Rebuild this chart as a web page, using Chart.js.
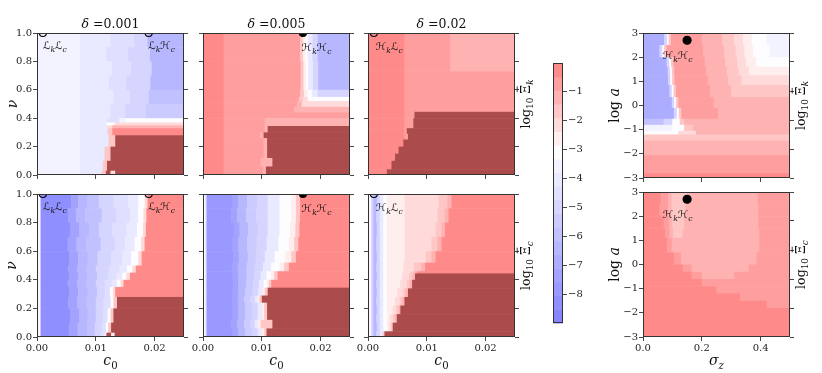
<!DOCTYPE html>
<html>
<head>
<meta charset="utf-8">
<script src="https://cdn.jsdelivr.net/npm/chart.js@4.4.1/dist/chart.umd.min.js"></script>
<style>
  body { margin: 0; background: #fff; width: 822px; height: 373px; position: relative; overflow: hidden; }
  canvas.p { position: absolute; }
</style>
</head>
<body>
<script>
// contour levels of the colour bar (20 edges, -9 .. 0)
const levels = [-9, -8.526, -8.053, -7.579, -7.105, -6.632, -6.158, -5.684, -5.211, -4.737,
                -4.263, -3.789, -3.316, -2.842, -2.368, -1.895, -1.421, -0.947, -0.474, 0];
const cbTicks = [-1, -2, -3, -4, -5, -6, -7, -8];
const cbLabels = ['\u22121', '\u22122', '\u22123', '\u22124', '\u22125', '\u22126', '\u22127', '\u22128'];

const c0Ticks = [0, 0.01, 0.02];
const c0Labels = ['0.00', '0.01', '0.02'];
const nuTicks = [0, 0.2, 0.4, 0.6, 0.8, 1.0];
const nuLabels = ['0.0', '0.2', '0.4', '0.6', '0.8', '1.0'];
const sigTicks = [0, 0.2, 0.4];
const sigLabels = ['0.0', '0.2', '0.4'];
const logaTicks = [-3, -2, -1, 0, 1, 2, 3];
const logaLabels = ['\u22123', '\u22122', '\u22121', '0', '1', '2', '3'];
const twinTicks = [0, 0.2, 0.4, 0.6, 0.8, 1.0];

// each strip: [y from, y to, [[x end, log10 value], ...]]  ('M' = dark masked region)
const k001 = [
  [0.90, 1.00, [[0.0073, -3.5], [0.0125, -4.0], [0.0165, -4.5], [0.0188, -5.0], [0.025, -6.4]]],
  [0.80, 0.90, [[0.0073, -3.5], [0.0118, -4.0], [0.0155, -4.5], [0.0192, -5.0], [0.025, -6.4]]],
  [0.70, 0.80, [[0.0073, -3.5], [0.0128, -4.0], [0.0160, -4.5], [0.0195, -5.0], [0.025, -6.4]]],
  [0.60, 0.70, [[0.0073, -3.5], [0.0122, -4.0], [0.0152, -4.5], [0.0193, -5.0], [0.025, -6.4]]],
  [0.50, 0.60, [[0.0073, -3.5], [0.0130, -4.0], [0.0158, -4.5], [0.0190, -5.0], [0.025, -6.0]]],
  [0.40, 0.50, [[0.0073, -3.5], [0.0125, -4.0], [0.0150, -4.5], [0.0185, -5.0], [0.025, -5.5]]],
  [0.37, 0.40, [[0.0073, -3.5], [0.0120, -4.0], [0.0140, -4.5], [0.0150, -3.6], [0.025, -3.0]]],
  [0.35, 0.37, [[0.0073, -3.5], [0.0118, -4.0], [0.0132, -3.0], [0.025, -2.2]]],
  [0.33, 0.35, [[0.0073, -3.5], [0.0118, -4.0], [0.0128, -2.0], [0.025, -1.0]]],
  [0.28, 0.33, [[0.0073, -3.5], [0.0120, -4.0], [0.0128, -1.5], [0.025, -0.3]]],
  [0.20, 0.28, [[0.0073, -3.5], [0.0122, -4.0], [0.0133, -1.5], [0.025, 'M']]],
  [0.10, 0.20, [[0.0073, -3.5], [0.0115, -4.0], [0.0125, -1.5], [0.025, 'M']]],
  [0.03, 0.10, [[0.0073, -3.5], [0.0112, -4.0], [0.0119, -1.5], [0.025, 'M']]],
  [0.00, 0.03, [[0.0073, -3.5], [0.0110, -4.0], [0.0117, -1.5], [0.0125, 'M'], [0.0133, -2.0], [0.025, 'M']]]
];

const k005 = [
  [0.80, 1.00, [[0.0035, -0.3], [0.0165, -0.8], [0.0170, -1.5], [0.0174, -2.4], [0.0178, -3.0], [0.0186, -4.0], [0.0195, -5.0], [0.025, -6.2]]],
  [0.60, 0.80, [[0.0035, -0.3], [0.0166, -0.8], [0.0171, -1.5], [0.0175, -2.4], [0.0179, -3.0], [0.0187, -4.0], [0.0196, -5.0], [0.025, -6.2]]],
  [0.55, 0.60, [[0.0035, -0.3], [0.0165, -0.8], [0.0172, -1.5], [0.0178, -2.4], [0.0185, -3.0], [0.0195, -4.0], [0.025, -5.0]]],
  [0.52, 0.55, [[0.0035, -0.3], [0.0163, -0.8], [0.0170, -1.5], [0.0178, -2.2], [0.025, -3.0]]],
  [0.48, 0.52, [[0.0035, -0.3], [0.0160, -0.8], [0.0168, -1.2], [0.025, -2.2]]],
  [0.44, 0.48, [[0.0035, -0.3], [0.0155, -0.8], [0.025, -1.4]]],
  [0.40, 0.44, [[0.0035, -0.3], [0.025, -0.8]]],
  [0.345, 0.40, [[0.0035, -0.3], [0.0105, -0.8], [0.025, -1.1]]],
  [0.30, 0.345, [[0.0035, -0.3], [0.0105, -0.8], [0.0110, -1.2], [0.025, 'M']]],
  [0.26, 0.30, [[0.0035, -0.3], [0.0097, -0.8], [0.0103, -1.2], [0.025, 'M']]],
  [0.12, 0.26, [[0.0035, -0.3], [0.0103, -0.8], [0.0109, -1.2], [0.025, 'M']]],
  [0.06, 0.12, [[0.0035, -0.3], [0.0098, -0.8], [0.0118, -1.2], [0.025, 'M']]],
  [0.00, 0.06, [[0.0035, -0.3], [0.0102, -0.8], [0.0107, -1.2], [0.025, 'M']]]
];

const k02 = [
  [0.73, 1.00, [[0.0062, -0.3], [0.0140, -0.8], [0.025, -1.3]]],
  [0.445, 0.73, [[0.0062, -0.3], [0.025, -0.8]]],
  [0.40, 0.445, [[0.0062, -0.3], [0.0079, -0.8], [0.025, 'M']]],
  [0.33, 0.40, [[0.0062, -0.3], [0.0077, -0.8], [0.025, 'M']]],
  [0.29, 0.33, [[0.0061, -0.3], [0.0066, -0.8], [0.025, 'M']]],
  [0.25, 0.29, [[0.0062, -0.3], [0.0068, -0.8], [0.025, 'M']]],
  [0.20, 0.25, [[0.0060, -0.3], [0.025, 'M']]],
  [0.15, 0.20, [[0.0052, -0.3], [0.025, 'M']]],
  [0.10, 0.15, [[0.0046, -0.3], [0.025, 'M']]],
  [0.04, 0.10, [[0.0040, -0.3], [0.025, 'M']]],
  [0.00, 0.04, [[0.0032, -0.3], [0.025, 'M']]]
];

const c001 = [
  [0.90, 1.00, [[0.0002, -0.5], [0.0006, -3.0], [0.0058, -8.2], [0.0070, -7.2], [0.0085, -6.5], [0.0105, -5.8], [0.0130, -5.2], [0.0155, -4.5], [0.0172, -4.0], [0.0183, -3.3], [0.0188, -2.2], [0.025, -0.3]]],
  [0.80, 0.90, [[0.0002, -0.5], [0.0006, -3.0], [0.0053, -8.2], [0.0066, -7.2], [0.0082, -6.5], [0.0110, -5.8], [0.0135, -5.2], [0.0158, -4.5], [0.0172, -4.0], [0.0181, -3.3], [0.0186, -2.2], [0.025, -0.3]]],
  [0.70, 0.80, [[0.0002, -0.5], [0.0006, -3.0], [0.0056, -8.2], [0.0072, -7.2], [0.0088, -6.5], [0.0105, -5.8], [0.0128, -5.2], [0.0152, -4.5], [0.0170, -4.0], [0.0180, -3.3], [0.0185, -2.2], [0.025, -0.3]]],
  [0.60, 0.70, [[0.0002, -0.5], [0.0006, -3.0], [0.0052, -8.2], [0.0067, -7.2], [0.0083, -6.5], [0.0108, -5.8], [0.0132, -5.2], [0.0150, -4.5], [0.0166, -4.0], [0.0177, -3.3], [0.0183, -2.2], [0.025, -0.3]]],
  [0.50, 0.60, [[0.0002, -0.5], [0.0006, -3.0], [0.0055, -8.2], [0.0070, -7.2], [0.0086, -6.5], [0.0103, -5.8], [0.0126, -5.2], [0.0145, -4.5], [0.0160, -4.0], [0.0172, -3.3], [0.0178, -2.2], [0.025, -0.3]]],
  [0.45, 0.50, [[0.0002, -0.5], [0.0006, -3.0], [0.0053, -8.2], [0.0068, -7.2], [0.0084, -6.5], [0.0100, -5.8], [0.0122, -5.2], [0.0140, -4.5], [0.0153, -4.0], [0.0162, -3.3], [0.0168, -2.2], [0.025, -0.3]]],
  [0.40, 0.45, [[0.0002, -0.5], [0.0006, -3.0], [0.0055, -8.2], [0.0070, -7.2], [0.0085, -6.5], [0.0102, -5.8], [0.0120, -5.2], [0.0135, -4.5], [0.0145, -4.0], [0.0152, -3.3], [0.0158, -2.2], [0.025, -0.3]]],
  [0.35, 0.40, [[0.0002, -0.5], [0.0006, -3.0], [0.0052, -8.2], [0.0068, -7.2], [0.0083, -6.5], [0.0100, -5.8], [0.0115, -5.2], [0.0128, -4.5], [0.0136, -4.0], [0.0142, -3.3], [0.0147, -2.2], [0.025, -0.3]]],
  [0.28, 0.35, [[0.0002, -0.5], [0.0006, -3.0], [0.0055, -8.2], [0.0070, -7.2], [0.0086, -6.5], [0.0102, -5.8], [0.0115, -5.2], [0.0124, -4.5], [0.0129, -3.3], [0.0133, -2.2], [0.025, -0.3]]],
  [0.20, 0.28, [[0.0002, -0.5], [0.0006, -3.0], [0.0053, -8.2], [0.0068, -7.2], [0.0084, -6.5], [0.0100, -5.8], [0.0113, -5.2], [0.0125, -4.5], [0.0130, -3.3], [0.0136, -1.5], [0.025, 'M']]],
  [0.10, 0.20, [[0.0002, -0.5], [0.0006, -3.0], [0.0056, -8.2], [0.0072, -7.2], [0.0086, -6.5], [0.0100, -5.8], [0.0112, -5.2], [0.0120, -4.5], [0.0125, -3.3], [0.0130, -1.5], [0.025, 'M']]],
  [0.03, 0.10, [[0.0002, -0.5], [0.0006, -3.0], [0.0054, -8.2], [0.0069, -7.2], [0.0085, -6.5], [0.0098, -5.8], [0.0110, -5.2], [0.0117, -4.5], [0.0121, -3.3], [0.0126, -1.5], [0.025, 'M']]],
  [0.00, 0.03, [[0.0002, -0.5], [0.0006, -3.0], [0.0054, -8.2], [0.0069, -7.2], [0.0085, -6.5], [0.0098, -5.8], [0.0108, -5.2], [0.0115, -4.5], [0.0118, -2.5], [0.0126, 'M'], [0.0132, -2.5], [0.025, 'M']]]
];

const c005 = [
  [0.90, 1.00, [[0.0003, -3.3], [0.0006, -3.8], [0.0050, -7.8], [0.0060, -7.2], [0.0075, -6.4], [0.0092, -5.6], [0.0110, -4.8], [0.0130, -4.0], [0.0150, -3.3], [0.0158, -2.5], [0.0165, -1.5], [0.025, -0.3]]],
  [0.80, 0.90, [[0.0003, -3.3], [0.0006, -3.8], [0.0048, -7.8], [0.0058, -7.2], [0.0073, -6.4], [0.0090, -5.6], [0.0110, -4.8], [0.0130, -4.0], [0.0150, -3.3], [0.0158, -2.5], [0.0165, -1.5], [0.025, -0.3]]],
  [0.70, 0.80, [[0.0003, -3.3], [0.0006, -3.8], [0.0052, -7.8], [0.0062, -7.2], [0.0077, -6.4], [0.0093, -5.6], [0.0110, -4.8], [0.0130, -4.0], [0.0148, -3.3], [0.0157, -2.5], [0.0164, -1.5], [0.025, -0.3]]],
  [0.60, 0.70, [[0.0003, -3.3], [0.0006, -3.8], [0.0049, -7.8], [0.0060, -7.2], [0.0075, -6.4], [0.0091, -5.6], [0.0108, -4.8], [0.0128, -4.0], [0.0146, -3.3], [0.0155, -2.5], [0.0162, -1.5], [0.025, -0.3]]],
  [0.52, 0.60, [[0.0003, -3.3], [0.0006, -3.8], [0.0051, -7.8], [0.0061, -7.2], [0.0076, -6.4], [0.0090, -5.6], [0.0105, -4.8], [0.0122, -4.0], [0.0140, -3.3], [0.0150, -2.5], [0.0158, -1.5], [0.025, -0.3]]],
  [0.46, 0.52, [[0.0003, -3.3], [0.0006, -3.8], [0.0049, -7.8], [0.0059, -7.2], [0.0074, -6.4], [0.0088, -5.6], [0.0102, -4.8], [0.0116, -4.0], [0.0130, -3.3], [0.0138, -2.5], [0.0146, -1.5], [0.025, -0.3]]],
  [0.40, 0.46, [[0.0003, -3.3], [0.0006, -3.8], [0.0050, -7.8], [0.0060, -7.2], [0.0074, -6.4], [0.0087, -5.6], [0.0098, -4.8], [0.0108, -4.0], [0.0116, -3.3], [0.0121, -2.5], [0.0127, -1.5], [0.025, -0.3]]],
  [0.345, 0.40, [[0.0003, -3.3], [0.0006, -3.8], [0.0051, -7.8], [0.0060, -7.2], [0.0073, -6.4], [0.0085, -5.6], [0.0095, -4.8], [0.0103, -4.0], [0.0108, -3.3], [0.0112, -2.5], [0.0116, -1.5], [0.025, -0.3]]],
  [0.29, 0.345, [[0.0003, -3.3], [0.0006, -3.8], [0.0050, -7.8], [0.0060, -7.2], [0.0072, -6.4], [0.0084, -5.6], [0.0094, -4.8], [0.0101, -4.0], [0.0105, -2.5], [0.0110, -1.5], [0.025, 'M']]],
  [0.24, 0.29, [[0.0003, -3.3], [0.0006, -3.8], [0.0050, -7.8], [0.0059, -7.2], [0.0070, -6.4], [0.0080, -5.6], [0.0088, -4.8], [0.0093, -4.0], [0.0096, -2.5], [0.0100, -1.5], [0.025, 'M']]],
  [0.12, 0.24, [[0.0003, -3.3], [0.0006, -3.8], [0.0049, -7.8], [0.0060, -7.2], [0.0072, -6.4], [0.0083, -5.6], [0.0093, -4.8], [0.0100, -4.0], [0.0104, -2.5], [0.0109, -1.5], [0.025, 'M']]],
  [0.06, 0.12, [[0.0003, -3.3], [0.0006, -3.8], [0.0048, -7.8], [0.0058, -7.2], [0.0070, -6.4], [0.0080, -5.6], [0.0088, -4.8], [0.0094, -4.0], [0.0098, -2.5], [0.0118, -1.5], [0.025, 'M']]],
  [0.00, 0.06, [[0.0003, -3.3], [0.0006, -3.8], [0.0050, -7.8], [0.0060, -7.2], [0.0072, -6.4], [0.0083, -5.6], [0.0093, -4.8], [0.0100, -4.0], [0.0104, -2.5], [0.0108, -1.5], [0.025, 'M']]]
];

const c02 = [
  [0.90, 1.00, [[0.0002, -0.5], [0.0005, -3.0], [0.0009, -5.2], [0.0015, -6.6], [0.0020, -5.2], [0.0026, -3.8], [0.0032, -3.1], [0.0062, -2.6], [0.0120, -2.2], [0.0135, -1.7], [0.0142, -1.2], [0.025, -0.3]]],
  [0.80, 0.90, [[0.0002, -0.5], [0.0005, -3.0], [0.0009, -5.2], [0.0014, -6.6], [0.0020, -5.2], [0.0026, -3.8], [0.0032, -3.1], [0.0062, -2.6], [0.0118, -2.2], [0.0130, -1.7], [0.0137, -1.2], [0.025, -0.3]]],
  [0.70, 0.80, [[0.0002, -0.5], [0.0005, -3.0], [0.0009, -5.2], [0.0015, -6.6], [0.0020, -5.2], [0.0026, -3.8], [0.0032, -3.1], [0.0062, -2.6], [0.0115, -2.2], [0.0125, -1.7], [0.0131, -1.2], [0.025, -0.3]]],
  [0.60, 0.70, [[0.0002, -0.5], [0.0005, -3.0], [0.0009, -5.2], [0.0014, -6.6], [0.0020, -5.2], [0.0026, -3.8], [0.0032, -3.1], [0.0062, -2.6], [0.0108, -2.2], [0.0118, -1.7], [0.0125, -1.2], [0.025, -0.3]]],
  [0.52, 0.60, [[0.0002, -0.5], [0.0005, -3.0], [0.0009, -5.2], [0.0015, -6.6], [0.0020, -5.2], [0.0026, -3.8], [0.0032, -3.1], [0.0062, -2.6], [0.0098, -2.2], [0.0108, -1.7], [0.0115, -1.2], [0.025, -0.3]]],
  [0.46, 0.52, [[0.0002, -0.5], [0.0005, -3.0], [0.0009, -5.2], [0.0014, -6.6], [0.0020, -5.2], [0.0026, -3.8], [0.0032, -3.1], [0.0060, -2.6], [0.0078, -2.2], [0.0090, -1.7], [0.0097, -1.2], [0.025, -0.3]]],
  [0.445, 0.46, [[0.0002, -0.5], [0.0005, -3.0], [0.0009, -5.2], [0.0015, -6.6], [0.0020, -5.2], [0.0026, -3.8], [0.0032, -3.1], [0.0060, -2.6], [0.0072, -2.2], [0.0078, -1.7], [0.0083, -1.2], [0.025, -0.3]]],
  [0.40, 0.445, [[0.0002, -0.5], [0.0005, -3.0], [0.0009, -5.2], [0.0015, -6.6], [0.0020, -5.2], [0.0026, -3.8], [0.0032, -3.1], [0.0058, -2.6], [0.0070, -2.2], [0.0076, -1.7], [0.0080, -1.2], [0.025, 'M']]],
  [0.34, 0.40, [[0.0002, -0.5], [0.0005, -3.0], [0.0009, -5.2], [0.0014, -6.6], [0.0020, -5.2], [0.0026, -3.8], [0.0032, -3.1], [0.0055, -2.6], [0.0066, -2.2], [0.0071, -1.7], [0.0075, -1.2], [0.025, 'M']]],
  [0.28, 0.34, [[0.0002, -0.5], [0.0005, -3.0], [0.0009, -5.2], [0.0015, -6.6], [0.0020, -5.2], [0.0026, -3.8], [0.0032, -3.1], [0.0050, -2.6], [0.0060, -2.2], [0.0064, -1.7], [0.0068, -1.2], [0.025, 'M']]],
  [0.22, 0.28, [[0.0002, -0.5], [0.0005, -3.0], [0.0009, -5.2], [0.0014, -6.6], [0.0020, -5.2], [0.0026, -3.8], [0.0032, -3.1], [0.0046, -2.6], [0.0054, -2.2], [0.0058, -1.7], [0.0062, -1.2], [0.025, 'M']]],
  [0.16, 0.22, [[0.0002, -0.5], [0.0005, -3.0], [0.0009, -5.2], [0.0015, -6.6], [0.0020, -5.2], [0.0026, -3.8], [0.0032, -3.1], [0.0042, -2.6], [0.0048, -2.2], [0.0052, -1.7], [0.0055, -1.2], [0.025, 'M']]],
  [0.10, 0.16, [[0.0002, -0.5], [0.0005, -3.0], [0.0009, -5.2], [0.0014, -6.6], [0.0020, -5.2], [0.0026, -3.8], [0.0032, -3.1], [0.0037, -2.6], [0.0042, -2.2], [0.0046, -1.7], [0.0049, -1.2], [0.025, 'M']]],
  [0.04, 0.10, [[0.0002, -0.5], [0.0005, -3.0], [0.0009, -5.2], [0.0015, -6.6], [0.0020, -5.2], [0.0026, -3.8], [0.0032, -3.1], [0.0036, -2.6], [0.0039, -2.2], [0.0042, -1.5], [0.025, 'M']]],
  [0.00, 0.04, [[0.0002, -0.5], [0.0005, -3.0], [0.0009, -5.2], [0.0014, -6.6], [0.0020, -5.2], [0.0025, -3.8], [0.0028, -1.7], [0.025, 'M']]]
];

const kSigma = [
  [2.5, 3.0, [[0.072, -6.9], [0.082, -5.2], [0.087, -3.0], [0.095, -1.5], [0.200, -0.8], [0.270, -1.2], [0.310, -1.7], [0.340, -2.2], [0.370, -2.6], [0.420, -3.1], [0.5, -3.6]]],
  [2.0, 2.5, [[0.056, -6.9], [0.066, -5.2], [0.072, -3.0], [0.080, -1.5], [0.205, -0.8], [0.275, -1.2], [0.315, -1.7], [0.345, -2.2], [0.375, -2.6], [0.430, -3.1], [0.5, -3.6]]],
  [1.6, 2.0, [[0.080, -6.9], [0.089, -5.2], [0.095, -3.0], [0.103, -1.5], [0.210, -0.8], [0.280, -1.2], [0.320, -1.7], [0.350, -2.2], [0.385, -2.6], [0.5, -3.1]]],
  [1.25, 1.6, [[0.084, -6.9], [0.092, -5.2], [0.098, -3.0], [0.106, -1.5], [0.215, -0.8], [0.285, -1.2], [0.325, -1.7], [0.360, -2.2], [0.5, -2.6]]],
  [0.85, 1.25, [[0.085, -6.9], [0.093, -5.2], [0.099, -3.0], [0.107, -1.5], [0.220, -0.8], [0.290, -1.2], [0.335, -1.7], [0.5, -2.2]]],
  [0.35, 0.85, [[0.090, -6.9], [0.098, -5.2], [0.104, -3.0], [0.112, -1.5], [0.228, -0.8], [0.300, -1.2], [0.5, -1.7]]],
  [-0.1, 0.35, [[0.098, -6.9], [0.106, -5.2], [0.112, -3.0], [0.120, -1.5], [0.240, -0.8], [0.5, -1.2]]],
  [-0.55, -0.1, [[0.105, -6.9], [0.115, -5.2], [0.122, -3.0], [0.130, -1.5], [0.255, -0.8], [0.5, -1.2]]],
  [-0.8, -0.55, [[0.070, -6.0], [0.100, -4.8], [0.125, -3.0], [0.140, -1.7], [0.5, -1.2]]],
  [-1.05, -0.8, [[0.100, -3.6], [0.140, -3.0], [0.170, -1.7], [0.5, -1.2]]],
  [-1.2, -1.05, [[0.120, -3.0], [0.180, -2.2], [0.5, -1.2]]],
  [-1.45, -1.2, [[0.5, -1.7]]],
  [-2.05, -1.45, [[0.5, -1.2]]],
  [-2.8, -2.05, [[0.5, -0.8]]],
  [-3.0, -2.8, [[0.5, -0.3]]]
];

const cSigma = [
  [2.5, 3.0, [[0.060, -0.3], [0.085, -0.8], [0.097, -1.2], [0.150, -1.7], [0.390, -1.2], [0.5, -0.8]]],
  [2.0, 2.5, [[0.056, -0.3], [0.085, -0.8], [0.097, -1.2], [0.145, -1.7], [0.392, -1.2], [0.5, -0.8]]],
  [1.5, 2.0, [[0.070, -0.3], [0.088, -0.8], [0.100, -1.2], [0.140, -1.7], [0.393, -1.2], [0.5, -0.8]]],
  [1.1, 1.5, [[0.075, -0.3], [0.090, -0.8], [0.103, -1.2], [0.135, -1.7], [0.395, -1.2], [0.5, -0.8]]],
  [0.5, 1.1, [[0.082, -0.3], [0.098, -0.8], [0.395, -1.2], [0.5, -0.8]]],
  [0.0, 0.5, [[0.105, -0.3], [0.130, -0.8], [0.385, -1.2], [0.5, -0.8]]],
  [-0.3, 0.0, [[0.135, -0.3], [0.165, -0.8], [0.360, -1.2], [0.5, -0.8]]],
  [-0.6, -0.3, [[0.165, -0.3], [0.200, -0.8], [0.310, -1.2], [0.5, -0.8]]],
  [-0.9, -0.6, [[0.200, -0.3], [0.5, -0.8]]],
  [-1.2, -0.9, [[0.250, -0.3], [0.5, -0.8]]],
  [-1.5, -1.2, [[0.330, -0.3], [0.5, -0.8]]],
  [-1.8, -1.5, [[0.420, -0.3], [0.5, -0.8]]],
  [-3.0, -1.8, [[0.5, -0.3]]]
];

// markers and text labels
const openLL = [{ x: 0.001, y: 1 }, { x: 0.019, y: 1 }];
const dotHH = [{ x: 0.017, y: 1 }];
const openHL = [{ x: 0.001, y: 1 }];
const dotSigma = [{ x: 0.15, y: 2.7 }];

const L = '\u2112', Hs = '\u210B';
const notesLL = [{ x: 0.001, y: 0.915, t: [[L], ['k', 'si'], [L], ['c', 'si']] },
                 { x: 0.0189, y: 0.915, t: [[L], ['k', 'si'], [Hs], ['c', 'si']] }];
const notesHH = [{ x: 0.0168, y: 0.90, t: [[Hs], ['k', 'si'], [Hs], ['c', 'si']] }];
const notesHL = [{ x: 0.00135, y: 0.91, t: [[Hs], ['k', 'si'], [L], ['c', 'si']] }];
const notesSig = [{ x: 0.068, y: 2.1, t: [[Hs], ['k', 'si'], [Hs], ['c', 'si']] }];

const MASK = '#ab4b4b';

function cmap(m) {
  let r, g, b;
  if (m <= -3) { const t = (m + 9) / 6; r = t; g = t; b = 1; }
  else { const t = (m + 3) / 3; r = 1; g = 1 - t; b = 1 - t; }
  const f = c => Math.round(255 * (0.5 + 0.5 * c));
  return 'rgb(' + f(r) + ',' + f(g) + ',' + f(b) + ')';
}

function bandColor(v) {
  if (v === 'M') return MASK;
  let i = 0;
  while (i < levels.length - 2 && v > levels[i + 1]) i++;
  return cmap((levels[i] + levels[i + 1]) / 2);
}

function mathText(ctx, parts, x, y, size, rot, align) {
  ctx.save();
  ctx.translate(x, y);
  ctx.rotate(rot || 0);
  ctx.fillStyle = '#111';
  ctx.textBaseline = 'alphabetic';
  const fam = '"DejaVu Serif", "DejaVu Sans", serif';
  const fonts = parts.map(p => {
    const f = p[1] || '';
    const s = f.includes('s') ? size * 0.72 : size;
    return (f.includes('i') ? 'italic ' : '') + s.toFixed(1) + 'px ' + fam;
  });
  const widths = parts.map((p, k) => { ctx.font = fonts[k]; return ctx.measureText(p[0]).width; });
  const total = widths.reduce((s, w) => s + w, 0);
  let cx = align === 'left' ? 0 : -total / 2;
  const base = size * 0.36;
  parts.forEach((p, k) => {
    const f = p[1] || '';
    ctx.font = fonts[k];
    const dy = f.includes('s') ? size * 0.3 : 0;
    ctx.fillText(p[0], cx, base + dy);
    if (f.includes('b')) ctx.fillRect(cx + 1.5, base - size * 1.02, widths[k] - 3, 0.8);
    cx += widths[k];
  });
  ctx.restore();
}

function heat(strips) {
  return {
    id: 'heat',
    beforeDatasetsDraw(chart) {
      const { ctx, chartArea: a } = chart;
      const xs = chart.scales.x, ys = chart.scales.y;
      ctx.save();
      ctx.beginPath();
      ctx.rect(a.left, a.top, a.right - a.left, a.bottom - a.top);
      ctx.clip();
      strips.forEach(([y0, y1, segs]) => {
        const top = ys.getPixelForValue(y1), bot = ys.getPixelForValue(y0);
        let x0 = xs.min;
        segs.forEach(([x1, v]) => {
          const l = xs.getPixelForValue(x0), r = xs.getPixelForValue(x1);
          ctx.fillStyle = bandColor(v);
          ctx.fillRect(l, top, r - l + 0.5, bot - top + 0.5);
          x0 = x1;
        });
      });
      ctx.restore();
    }
  };
}

function decor(cfg) {
  return {
    id: 'decor',
    afterDatasetsDraw(chart) {
      const { ctx, chartArea: a } = chart;
      const xs = chart.scales.x, ys = chart.scales.y;
      ctx.save();
      ctx.strokeStyle = '#333';
      ctx.lineWidth = 1;
      ctx.strokeRect(a.left + 0.5, a.top + 0.5, a.right - a.left - 1, a.bottom - a.top - 1);
      ctx.restore();
      const midX = (a.left + a.right) / 2, midY = (a.top + a.bottom) / 2;
      if (cfg.title) mathText(ctx, [['\u03b4', 'i'], [' =' + cfg.title]], midX, a.top - 10, 12.5);
      if (cfg.yTitle) mathText(ctx, cfg.yTitle, a.left - cfg.yTitleOff, midY, 14, -Math.PI / 2);
      if (cfg.xTitle) mathText(ctx, cfg.xTitle, midX, a.bottom + 23, 14);
      if (cfg.rTitle) mathText(ctx, cfg.rTitle, a.right + 10, midY, 12.5, -Math.PI / 2);
      (cfg.notes || []).forEach(n => {
        mathText(ctx, n.t, xs.getPixelForValue(n.x), ys.getPixelForValue(n.y), 10.5, 0, 'left');
      });
    }
  };
}

function axis(pos, min, max, ticks, labels, size, showTicks) {
  return {
    type: 'linear', position: pos, min: min, max: max,
    afterBuildTicks: s => { s.ticks = ticks.map(v => ({ value: v })); },
    afterFit: s => { if (pos === 'bottom') s.height = size; else s.width = size; },
    border: { display: false },
    grid: { display: showTicks, drawOnChartArea: false, drawTicks: true, tickLength: 4, tickWidth: 0.9, tickColor: '#333', color: '#333' },
    ticks: {
      padding: 1, color: '#222', autoSkip: false, maxRotation: 0,
      font: { family: 'DejaVu Serif', size: 10 },
      callback: (v, i) => labels ? labels[i] : ''
    }
  };
}

function makePanel(cfg) {
  const c = document.createElement('canvas');
  c.className = 'p';
  c.width = cfg.w + 70;
  c.height = cfg.h + 60;
  c.style.left = (cfg.left - 40) + 'px';
  c.style.top = (cfg.top - 25) + 'px';
  document.body.appendChild(c);
  new Chart(c, {
    type: 'scatter',
    data: {
      datasets: cfg.marks.map(m => ({
        data: m.data, pointRadius: m.r, pointBorderWidth: 1.2,
        pointBackgroundColor: m.fill ? '#000' : 'rgba(0,0,0,0)', pointBorderColor: '#000', clip: 0
      }))
    },
    options: {
      responsive: false, animation: false, events: [],
      layout: { padding: { top: 25, left: 0, right: 0, bottom: 0 } },
      plugins: { legend: { display: false }, tooltip: { enabled: false } },
      scales: {
        x: axis('bottom', cfg.xr[0], cfg.xr[1], cfg.xTicks, cfg.xLabels, 35, true),
        y: axis('left', cfg.yr[0], cfg.yr[1], cfg.yTicks, cfg.yLabels, 40, true),
        y2: axis('right', 0, 1, twinTicks, null, 30, cfg.twin)
      }
    },
    plugins: [heat(cfg.strips), decor(cfg)]
  });
}

const c0Title = [['c', 'i'], ['0', 's']];
const nuTitle = [['\u03bd', 'i']];
const logaTitle = [['log '], ['a', 'i']];
const sigTitle = [['\u03c3', 'i'], ['z', 'si']];
const kTitle = [['log'], ['10', 's'], [' '], ['\u039e', 'b'], ['k', 'si']];
const cTitle = [['log'], ['10', 's'], [' '], ['\u039e', 'b'], ['c', 'si']];

const cPanel = { xr: [0, 0.025], yr: [0, 1], xTicks: c0Ticks, yTicks: nuTicks, w: 147 };
const sPanel = { xr: [0, 0.5], yr: [-3, 3], xTicks: sigTicks, yTicks: logaTicks, yLabels: logaLabels, w: 147, h: 145,
                 yTitle: logaTitle, yTitleOff: 29, twin: true };

[
  Object.assign({}, cPanel, { left: 37, top: 33, h: 142, strips: k001, yLabels: nuLabels, title: '0.001', yTitle: nuTitle, yTitleOff: 25,
    marks: [{ data: openLL, r: 3.5 }], notes: notesLL }),
  Object.assign({}, cPanel, { left: 203, top: 33, h: 142, strips: k005, title: '0.005',
    marks: [{ data: dotHH, r: 3.5, fill: true }], notes: notesHH }),
  Object.assign({}, cPanel, { left: 368, top: 33, h: 142, strips: k02, title: '0.02', twin: true, rTitle: kTitle,
    marks: [{ data: openHL, r: 3.5 }], notes: notesHL }),
  Object.assign({}, cPanel, { left: 37, top: 194, h: 143, strips: c001, yLabels: nuLabels, xLabels: c0Labels, xTitle: c0Title,
    yTitle: nuTitle, yTitleOff: 26, marks: [{ data: openLL, r: 3.5 }], notes: notesLL }),
  Object.assign({}, cPanel, { left: 203, top: 194, h: 143, strips: c005, xLabels: c0Labels, xTitle: c0Title,
    marks: [{ data: dotHH, r: 3.5, fill: true }], notes: notesHH }),
  Object.assign({}, cPanel, { left: 368, top: 194, h: 143, strips: c02, xLabels: c0Labels, xTitle: c0Title, twin: true, rTitle: cTitle,
    marks: [{ data: openHL, r: 3.5 }], notes: notesHL }),
  Object.assign({}, sPanel, { left: 643, top: 33, strips: kSigma, rTitle: kTitle,
    marks: [{ data: dotSigma, r: 4, fill: true }], notes: notesSig }),
  Object.assign({}, sPanel, { left: 643, top: 192, strips: cSigma, xLabels: sigLabels, xTitle: sigTitle, rTitle: cTitle,
    marks: [{ data: dotSigma, r: 4, fill: true }], notes: notesSig })
].forEach(makePanel);

// colour bar
(function () {
  const c = document.createElement('canvas');
  c.className = 'p';
  c.width = 42;
  c.height = 280;
  c.style.left = '553px';
  c.style.top = '53px';
  document.body.appendChild(c);
  new Chart(c, {
    type: 'scatter',
    data: { datasets: [] },
    options: {
      responsive: false, animation: false, events: [],
      layout: { padding: { top: 10, bottom: 10, left: 0, right: 0 } },
      plugins: { legend: { display: false }, tooltip: { enabled: false } },
      scales: {
        x: { display: false, min: 0, max: 1 },
        y: axis('right', -9, 0, cbTicks, cbLabels, 32, true)
      }
    },
    plugins: [{
      id: 'bar',
      beforeDatasetsDraw(chart) {
        const { ctx, chartArea: a } = chart;
        const ys = chart.scales.y;
        for (let i = 0; i < levels.length - 1; i++) {
          const t = ys.getPixelForValue(levels[i + 1]), b = ys.getPixelForValue(levels[i]);
          ctx.fillStyle = cmap((levels[i] + levels[i + 1]) / 2);
          ctx.fillRect(a.left, t, a.right - a.left, b - t + 0.5);
        }
        ctx.strokeStyle = '#333';
        ctx.lineWidth = 1;
        ctx.strokeRect(a.left + 0.5, a.top + 0.5, a.right - a.left - 1, a.bottom - a.top - 1);
      }
    }]
  });
})();
</script>
</body>
</html>
